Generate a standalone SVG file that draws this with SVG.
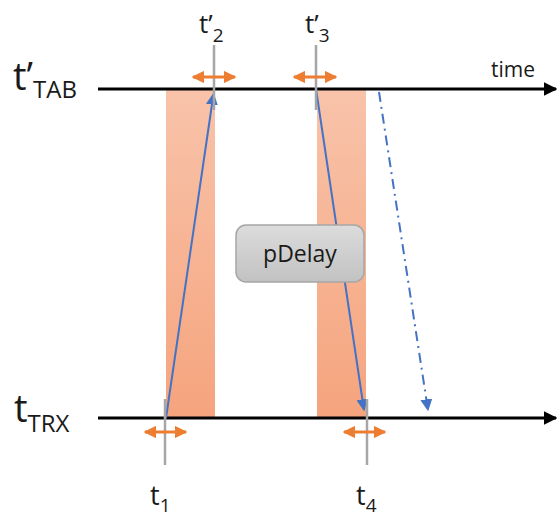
<svg xmlns="http://www.w3.org/2000/svg" width="560" height="520" viewBox="0 0 560 520">
<style>
.lbl{font-family:"Open Sans","Noto Sans","Liberation Sans",sans-serif;fill:#1a1a1a}
.axis{stroke:#000;stroke-width:3.2;fill:none}
.tick{stroke:#a6a6a6;stroke-width:2.5}
.orange{stroke:#ED7D31;stroke-width:3;fill:none}
.blue{stroke:#4472C4;stroke-width:2;fill:none}
</style>
<defs>
<linearGradient id="band" x1="0" y1="0" x2="0" y2="1">
<stop offset="0" stop-color="#F8C3AA"/>
<stop offset="1" stop-color="#F5A47D"/>
</linearGradient>
<linearGradient id="box" x1="0" y1="0" x2="0" y2="1">
<stop offset="0" stop-color="#DCDCDC"/>
<stop offset="1" stop-color="#C2C2C2"/>
</linearGradient>
<marker id="ah" viewBox="0 0 10 10" refX="9" refY="5" markerWidth="4.2" markerHeight="4.2" orient="auto">
<path d="M0,0L10,5L0,10z" fill="#000"/>
</marker>
<marker id="oh" viewBox="0 0 10 10" refX="9" refY="5" markerWidth="4.2" markerHeight="4.2" orient="auto-start-reverse">
<path d="M0,0L10,5L0,10z" fill="#ED7D31"/>
</marker>
<marker id="bh" viewBox="0 0 10 10" refX="9" refY="5" markerWidth="6" markerHeight="6" orient="auto">
<path d="M0,0L10,5L0,10z" fill="#4472C4"/>
</marker>
</defs>
<g id="bands">
<rect x="166" y="90" width="49" height="328" fill="url(#band)"/>
<rect x="317" y="90" width="49" height="328" fill="url(#band)"/>
</g>
<g id="axes">
<line class="axis" x1="98" y1="89" x2="556" y2="89" marker-end="url(#ah)"/>
<line class="axis" x1="98" y1="418" x2="556" y2="418" marker-end="url(#ah)"/>
<text class="lbl" x="491" y="77" font-size="21">time</text>
</g>
<g id="connectors">
<line class="blue" x1="166" y1="418" x2="213.5" y2="94" marker-end="url(#bh)"/>
<line class="blue" x1="316" y1="89" x2="364" y2="410" marker-end="url(#bh)"/>
<line class="blue" x1="379" y1="92" x2="428" y2="410" stroke-dasharray="10,5,2,5" marker-end="url(#bh)"/>
</g>
<g id="ticks">
<line class="tick" x1="214" y1="45" x2="214" y2="110"/>
<line class="tick" x1="316" y1="45" x2="316" y2="110"/>
<line class="tick" x1="165" y1="399" x2="165" y2="465"/>
<line class="tick" x1="367" y1="399" x2="367" y2="465"/>
</g>
<g id="jitter">
<line class="orange" x1="193" y1="77" x2="235" y2="77" marker-start="url(#oh)" marker-end="url(#oh)"/>
<line class="orange" x1="294" y1="77" x2="336" y2="77" marker-start="url(#oh)" marker-end="url(#oh)"/>
<line class="orange" x1="145" y1="432" x2="186" y2="432" marker-start="url(#oh)" marker-end="url(#oh)"/>
<line class="orange" x1="344" y1="432" x2="385" y2="432" marker-start="url(#oh)" marker-end="url(#oh)"/>
</g>
<g id="pDelay">
<rect x="236" y="225" width="128" height="57" rx="10" fill="url(#box)" stroke="#A6A6A6" stroke-width="1.5"/>
<text class="lbl" x="300" y="262" font-size="23" text-anchor="middle">pDelay</text>
</g>
<g id="labels">
<text class="lbl" x="13" y="90" font-size="38">t’<tspan font-size="24" dy="8">TAB</tspan></text>
<text class="lbl" x="14" y="422" font-size="38">t<tspan font-size="24" dy="10">TRX</tspan></text>
<text class="lbl" x="199" y="33" font-size="26">t’<tspan font-size="19" dy="9">2</tspan></text>
<text class="lbl" x="305" y="33" font-size="26">t’<tspan font-size="19" dy="9">3</tspan></text>
<text class="lbl" x="150" y="505" font-size="27">t<tspan font-size="19" dy="7">1</tspan></text>
<text class="lbl" x="356" y="505" font-size="27">t<tspan font-size="19" dy="7">4</tspan></text>
</g>
</svg>
